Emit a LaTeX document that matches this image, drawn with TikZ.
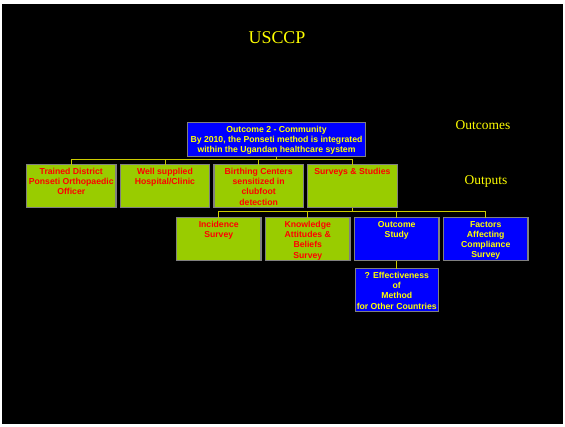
\documentclass[tikz,border=0pt]{standalone}
\usepackage{fontspec}
\setmainfont{Liberation Serif}
\setsansfont{Liberation Sans}
\usepackage{xcolor}
\usetikzlibrary{positioning}

\definecolor{leaf}{RGB}{153,204,0}
\definecolor{deepblue}{RGB}{0,0,255}
\definecolor{rim}{RGB}{128,128,128}
\definecolor{gold}{RGB}{255,255,0}
\definecolor{wire}{RGB}{204,204,0}

% fixed-size cell, text set from the top
\newcommand{\cell}[3]{\parbox[c][#2][t]{#1}{\centering\vspace*{3.6bp}#3\par}}

\begin{document}
\begin{tikzpicture}[
  x=1bp, y=1bp,
  box/.style={draw=rim, line width=1.2bp, inner sep=0pt, outer sep=0pt,
              font=\sffamily\bfseries\fontsize{8.7}{10.3}\selectfont},
  leafbox/.style={box, fill=leaf, text=red},
  hubbox/.style={box, fill=deepblue, text=gold},
  link/.style={draw=wire, line width=0.9bp},
  heading/.style={text=gold, font=\fontsize{13.5}{15}\selectfont}
]
% slide
\fill[white] (0,0) rectangle (565,-426);
\fill[black] (2,-4) rectangle (563,-424);
\node[text=gold, font=\fontsize{18}{20}\selectfont] (title) at (277,-38) {USCCP};
% outcome
\node[hubbox, anchor=north west] (oc) at (187.5,-122.5)
   {\cell{178bp}{34bp}{Outcome 2 - Community\\By 2010, the Ponseti method is integrated\\within the Ugandan healthcare system}};
\node[heading] (lout) at (483,-125) {Outcomes};
% outputs
\node[leafbox, anchor=north west] (o1) at (26.5,-164.5)
   {\cell{89.5bp}{43bp}{Trained District\\Ponseti Orthopaedic\\Officer}};
\node[leafbox, right=4.2bp of o1] (o2) {\cell{89.5bp}{43bp}{Well supplied\\Hospital/Clinic}};
\node[leafbox, right=4.2bp of o2] (o3) {\cell{89.5bp}{43bp}{Birthing Centers\\sensitized in\\clubfoot\\detection}};
\node[leafbox, right=4.2bp of o3] (o4) {\cell{89.5bp}{43bp}{Surveys \& Studies}};
\node[heading] (lput) at (486,-181) {Outputs};
% surveys
\node[leafbox, anchor=north west] (s1) at (176.5,-217.5) {\cell{84.5bp}{43bp}{Incidence\\Survey}};
\node[leafbox, right=4.5bp of s1] (s2) {\cell{84.5bp}{43bp}{Knowledge\\Attitudes \&\\Beliefs\\Survey}};
\node[hubbox, right=4.5bp of s2] (s3) {\cell{84.5bp}{43bp}{Outcome\\Study}};
\node[hubbox, right=4.5bp of s3] (s4) {\cell{84.5bp}{43bp}{Factors\\Affecting\\Compliance\\Survey}};
\node[hubbox, below=8bp of s3] (ef) {\cell{83bp}{43bp}{? Effectiveness\\of\\Method\\for Other Countries}};
% links
\foreach \n in {o1,o2,o3,o4}
  \draw[link] (oc.south) -- ++(0,-3) -| (\n.north);
\foreach \n in {s1,s2,s3,s4}
  \draw[link] (o4.south) -- ++(0,-4) -| (\n.north);
\draw[link] (s3.south) -- (ef.north);
\end{tikzpicture}
\end{document}
